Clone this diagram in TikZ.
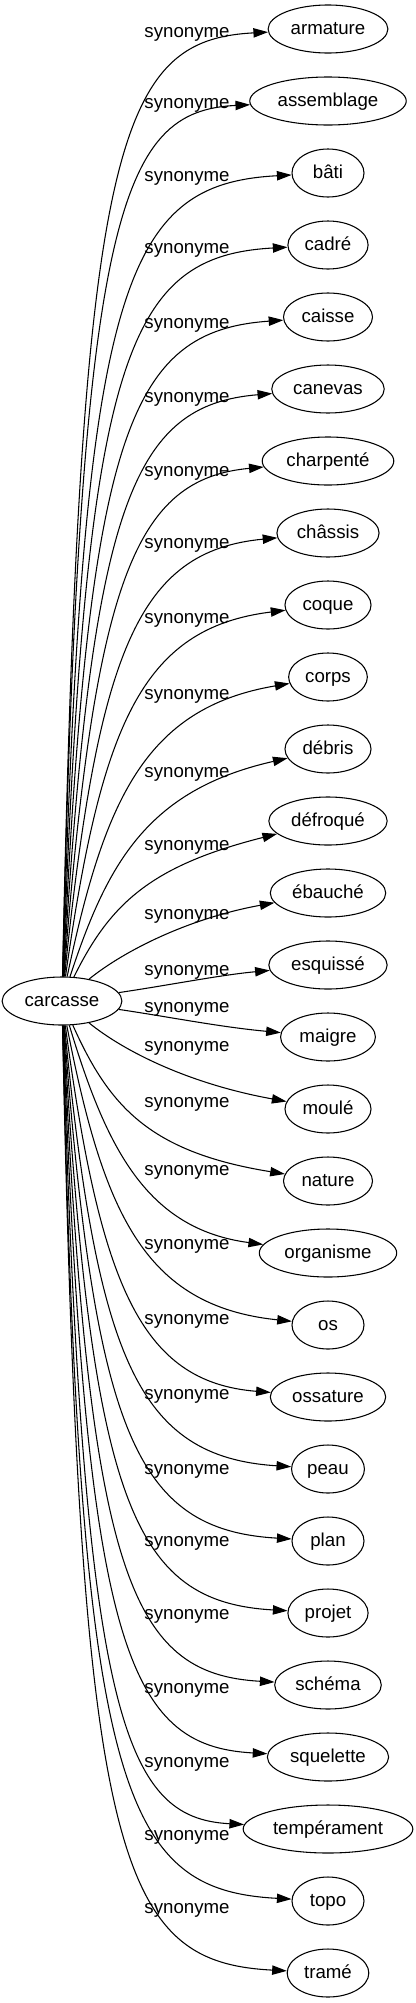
\documentclass[tikz,border=0pt]{standalone}
\usepackage{fontspec}
\setmainfont{Liberation Sans}
\usetikzlibrary{arrows.meta,shapes.geometric}

\begin{document}
\begin{tikzpicture}[x=0.75pt,y=-0.75pt,
    every node/.style={font=\fontsize{14pt}{16pt}\selectfont},
    word/.style={draw,ellipse,line width=0.8pt,inner xsep=3.75pt,inner ysep=0pt,minimum width=54pt,minimum height=36pt,text height=11.5pt,text depth=2.8pt},
    syn/.style={inner sep=0pt},
    link/.style={line width=0.8pt,-{Triangle[length=11pt,width=7pt]}}]
    \useasboundingbox (0,0) rectangle (416,2003);
    % centre word
    \node[word] (carcasse) at (62,1001) {carcasse};
    % synonyms
    \node[word] (armature) at (328,29) {armature};
    \node[word] (assemblage) at (328,101) {assemblage};
    \node[word] (bati) at (328,173) {bâti};
    \node[word] (cadre) at (328,245) {cadré};
    \node[word] (caisse) at (328,317) {caisse};
    \node[word] (canevas) at (328,389) {canevas};
    \node[word] (charpente) at (328,461) {charpenté};
    \node[word] (chassis) at (328,533) {châssis};
    \node[word] (coque) at (328,605) {coque};
    \node[word] (corps) at (328,677) {corps};
    \node[word] (debris) at (328,749) {débris};
    \node[word] (defroque) at (328,821) {défroqué};
    \node[word] (ebauche) at (328,893) {ébauché};
    \node[word] (esquisse) at (328,965) {esquissé};
    \node[word] (maigre) at (328,1037) {maigre};
    \node[word] (moule) at (328,1109) {moulé};
    \node[word] (nature) at (328,1181) {nature};
    \node[word] (organisme) at (328,1253) {organisme};
    \node[word] (os) at (328,1325) {os};
    \node[word] (ossature) at (328,1397) {ossature};
    \node[word] (peau) at (328,1469) {peau};
    \node[word] (plan) at (328,1541) {plan};
    \node[word] (projet) at (328,1613) {projet};
    \node[word] (schema) at (328,1685) {schéma};
    \node[word] (squelette) at (328,1757) {squelette};
    \node[word] (temperament) at (328,1829) {tempérament};
    \node[word] (topo) at (328,1901) {topo};
    \node[word] (trame) at (328,1973) {tramé};
    % edge labels
    \node[syn] (lab1) at (187,34) {synonyme};
    \node[syn] (lab2) at (187,105) {synonyme};
    \node[syn] (lab3) at (187,178) {synonyme};
    \node[syn] (lab4) at (187,250) {synonyme};
    \node[syn] (lab5) at (187,325) {synonyme};
    \node[syn] (lab6) at (187,399) {synonyme};
    \node[syn] (lab7) at (187,473) {synonyme};
    \node[syn] (lab8) at (187,545) {synonyme};
    \node[syn] (lab9) at (187,620) {synonyme};
    \node[syn] (lab10) at (187,696) {synonyme};
    \node[syn] (lab11) at (187,774) {synonyme};
    \node[syn] (lab12) at (187,847) {synonyme};
    \node[syn] (lab13) at (187,916) {synonyme};
    \node[syn] (lab14) at (187,972) {synonyme};
    \node[syn] (lab15) at (187,1009) {synonyme};
    \node[syn] (lab16) at (187,1048) {synonyme};
    \node[syn] (lab17) at (187,1104) {synonyme};
    \node[syn] (lab18) at (187,1172) {synonyme};
    \node[syn] (lab19) at (187,1246) {synonyme};
    \node[syn] (lab20) at (187,1321) {synonyme};
    \node[syn] (lab21) at (187,1396) {synonyme};
    \node[syn] (lab22) at (187,1471) {synonyme};
    \node[syn] (lab23) at (187,1543) {synonyme};
    \node[syn] (lab24) at (187,1616) {synonyme};
    \node[syn] (lab25) at (187,1690) {synonyme};
    \node[syn] (lab26) at (187,1764) {synonyme};
    \node[syn] (lab27) at (187,1837) {synonyme};
    \node[syn] (lab28) at (187,1910) {synonyme};
    % edges
    \draw[link] (carcasse) .. controls (80,140) and (117,40) .. (armature);
    \draw[link] (carcasse) .. controls (80,211) and (120,111) .. (assemblage);
    \draw[link] (carcasse) .. controls (83,284) and (123,184) .. (bati);
    \draw[link] (carcasse) .. controls (86,356) and (126,256) .. (cadre);
    \draw[link] (carcasse) .. controls (89,431) and (129,331) .. (caisse);
    \draw[link] (carcasse) .. controls (92,505) and (132,405) .. (canevas);
    \draw[link] (carcasse) .. controls (95,579) and (135,479) .. (charpente);
    \draw[link] (carcasse) .. controls (98,651) and (138,551) .. (chassis);
    \draw[link] (carcasse) .. controls (101,726) and (141,628) .. (coque);
    \draw[link] (carcasse) .. controls (104,802) and (144,708) .. (corps);
    \draw[link] (carcasse) .. controls (107,864) and (147,790) .. (debris);
    \draw[link] (carcasse) .. controls (110,904) and (150,866) .. (defroque);
    \draw[link] (carcasse) .. controls (125,950) and (190,918) .. (ebauche);
    \draw[link] (carcasse) .. controls (170,985) and (220,975) .. (esquisse);
    \draw[link] (carcasse) .. controls (170,1017) and (220,1027) .. (maigre);
    \draw[link] (carcasse) .. controls (125,1052) and (190,1084) .. (moule);
    \draw[link] (carcasse) .. controls (109,1106) and (149,1152) .. (nature);
    \draw[link] (carcasse) .. controls (106,1147) and (146,1229) .. (organisme);
    \draw[link] (carcasse) .. controls (103,1211) and (143,1306) .. (os);
    \draw[link] (carcasse) .. controls (100,1284) and (140,1382) .. (ossature);
    \draw[link] (carcasse) .. controls (97,1357) and (137,1457) .. (peau);
    \draw[link] (carcasse) .. controls (95,1430) and (134,1530) .. (plan);
    \draw[link] (carcasse) .. controls (92,1502) and (132,1602) .. (projet);
    \draw[link] (carcasse) .. controls (89,1574) and (129,1674) .. (schema);
    \draw[link] (carcasse) .. controls (86,1646) and (126,1746) .. (squelette);
    \draw[link] (carcasse) .. controls (83,1718) and (123,1818) .. (temperament);
    \draw[link] (carcasse) .. controls (80,1790) and (120,1890) .. (topo);
    \draw[link] (carcasse) .. controls (80,1862) and (117,1962) .. (trame);
\end{tikzpicture}
\end{document}
